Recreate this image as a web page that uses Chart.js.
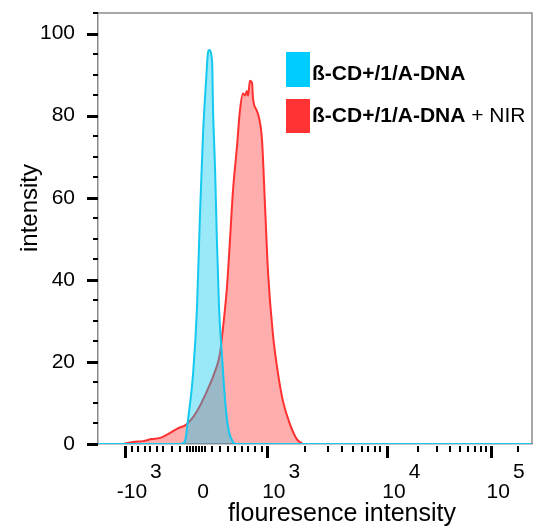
<!DOCTYPE html>
<html>
<head>
<meta charset="utf-8">
<script src="https://cdn.jsdelivr.net/npm/chart.js@4.4.1/dist/chart.umd.min.js"></script>
<style>
  html, body { margin: 0; padding: 0; background: #fff; }
  #wrap { width: 534px; height: 529px; }
</style>
</head>
<body>
<div id="wrap"><canvas id="histChart" width="534" height="529"></canvas></div>
<script>
// x values are display channels (0-1000) along the biexponential fluorescence axis
const blueX = [0, 189, 200, 207, 219, 228, 235, 242, 249, 253, 256, 263, 265, 270, 274, 279, 286, 293, 300, 311, 318, 1000];
const blueY = [0, 0, 0.5, 5.6, 17, 33, 56, 75.6, 88.5, 95, 96, 93, 82, 66, 49.5, 33, 21, 10.5, 3.9, 0.5, 0, 0];

const redX = [58, 81, 104, 124, 143, 161, 182, 205, 228, 251, 270, 281, 288, 297, 304, 311, 320, 327, 334, 339, 343, 346, 350, 355, 357, 366, 371, 378, 385, 392, 403, 415, 426, 442, 458, 472];
const redY = [0, 0.5, 0.7, 1.2, 1.5, 2.4, 3.7, 4.9, 8, 12.9, 17.8, 22, 28.3, 38, 49.5, 61.7, 72.2, 81.2, 85.4, 84.9, 86, 84.9, 88.5, 88, 84.4, 81.2, 79.5, 73.9, 57.6, 41.5, 26.8, 17, 10.5, 4.9, 1.2, 0];

const seriesNames = ['ß-CD+/1/A-DNA', 'ß-CD+/1/A-DNA'];
const seriesSuffix = ['', ' + NIR'];

const yTickValues = [0, 20, 40, 60, 80, 100];
const yMinorValues = [5, 10, 15, 25, 30, 35, 45, 50, 55, 65, 70, 75, 85, 90, 95, 105];

// x labels: -10^3, 0, 10^3, 10^4, 10^5
const xLabelTicks = [62, 226, 389, 666, 906];
const xLabelBase = ['-10', '0', '10', '10', '10'];
const xLabelExp = ['3', '', '3', '4', '5'];
const xLongTicks = [62, 389, 666, 906];
const xShortTicks = [78, 92, 108, 120, 136, 150, 171, 189, 205, 212, 219, 226, 233, 240, 247,
  263, 281, 300, 316, 332, 346, 362, 378,
  477, 530, 562, 588, 608, 622, 638, 650,
  737, 781, 811, 834, 853, 869, 883, 894, 968];

const blueLine = 'rgb(20, 200, 240)';
const blueFill = 'rgba(0, 200, 240, 0.4)';
const redLine = 'rgb(255, 48, 48)';
const redFill = 'rgba(255, 50, 50, 0.4)';

const axisDecor = {
  id: 'axisDecor',
  afterDraw(chart) {
    const { ctx, chartArea: a, scales: { x, y } } = chart;
    ctx.save();

    // grey frame on top and right
    ctx.strokeStyle = '#8c8c8c';
    ctx.lineWidth = 1.5;
    ctx.beginPath();
    ctx.moveTo(a.left, a.top);
    ctx.lineTo(a.right, a.top);
    ctx.lineTo(a.right, a.bottom);
    ctx.stroke();

    const seg = (x1, y1, x2, y2, w) => {
      ctx.lineWidth = w;
      ctx.beginPath();
      ctx.moveTo(x1, y1);
      ctx.lineTo(x2, y2);
      ctx.stroke();
    };
    ctx.strokeStyle = '#000';
    yTickValues.forEach(v => {
      const py = Math.round(y.getPixelForValue(v)) + 0.5;
      seg(a.left - 11, py, a.left, py, 3);
    });
    yMinorValues.forEach(v => {
      const py = Math.round(y.getPixelForValue(v));
      seg(a.left - 5, py, a.left, py, 2);
    });
    const base = a.bottom + 2;
    xLongTicks.forEach(v => {
      const px = Math.round(x.getPixelForValue(v)) + 0.5;
      seg(px, base, px, base + 12, 3);
    });
    xShortTicks.forEach(v => {
      const px = Math.round(x.getPixelForValue(v));
      seg(px, base, px, base + 6, 2);
    });

    // x tick labels with raised exponents
    ctx.fillStyle = '#000';
    ctx.font = '21px "Liberation Sans", Arial, sans-serif';
    ctx.textBaseline = 'alphabetic';
    xLabelTicks.forEach((v, i) => {
      const px = x.getPixelForValue(v) + 7;
      ctx.textAlign = 'center';
      ctx.fillText(xLabelBase[i], px, 498);
      if (xLabelExp[i]) {
        const w = ctx.measureText(xLabelBase[i]).width;
        ctx.textAlign = 'left';
        ctx.fillText(xLabelExp[i], px + w / 2 + 3, 478);
      }
    });

    // axis titles
    ctx.font = '25px "Liberation Sans", Arial, sans-serif';
    ctx.textAlign = 'center';
    ctx.fillText('flouresence intensity', 342, 521);
    ctx.save();
    ctx.translate(37, 208);
    ctx.rotate(-Math.PI / 2);
    ctx.font = '24px "Liberation Sans", Arial, sans-serif';
    ctx.fillText('intensity', 0, 0);
    ctx.restore();

    // legend
    const boxes = [[286, 52, 24, 35, 'rgb(0, 204, 255)', 80], [286, 99, 24, 34, 'rgb(255, 51, 51)', 122]];
    boxes.forEach((b, i) => {
      ctx.fillStyle = b[4];
      ctx.fillRect(b[0], b[1], b[2], b[3]);
      ctx.fillStyle = '#000';
      ctx.textAlign = 'left';
      ctx.font = 'bold 21px "Liberation Sans", Arial, sans-serif';
      const tx = 312;
      ctx.fillText(seriesNames[i], tx, b[5]);
      if (seriesSuffix[i]) {
        const w = ctx.measureText(seriesNames[i]).width;
        ctx.font = '21px "Liberation Sans", Arial, sans-serif';
        ctx.fillText(seriesSuffix[i], tx + w, b[5]);
      }
    });
    ctx.restore();
  }
};

new Chart(document.getElementById('histChart'), {
  type: 'line',
  data: {
    datasets: [
      {
        label: seriesNames[0],
        data: blueX.map((v, i) => ({ x: v, y: blueY[i] })),
        borderColor: blueLine,
        backgroundColor: blueFill,
        borderWidth: 2,
        fill: 'origin',
        pointRadius: 0,
        cubicInterpolationMode: 'monotone'
      },
      {
        label: seriesNames[1] + seriesSuffix[1],
        data: redX.map((v, i) => ({ x: v, y: redY[i] })),
        borderColor: redLine,
        backgroundColor: redFill,
        borderWidth: 2,
        fill: 'origin',
        pointRadius: 0,
        cubicInterpolationMode: 'monotone'
      }
    ]
  },
  options: {
    responsive: false,
    animation: false,
    devicePixelRatio: 1,
    layout: { padding: { top: 13, right: 2, left: 0, bottom: 0 } },
    plugins: {
      legend: { display: false },
      tooltip: { enabled: false }
    },
    scales: {
      x: {
        type: 'linear',
        min: 0,
        max: 1000,
        grid: { display: false, drawTicks: false },
        border: { display: true, color: '#8c8c8c', width: 1.5 },
        ticks: { display: false },
        afterBuildTicks: s => { s.ticks = []; },
        afterFit: s => { s.height = 85; s.paddingLeft = 0; s.paddingRight = 0; }
      },
      y: {
        min: 0,
        max: 105,
        grid: { display: false, drawTicks: false },
        border: { display: true, color: '#8c8c8c', width: 1.5 },
        afterBuildTicks: s => { s.ticks = yTickValues.map(v => ({ value: v })); },
        afterFit: s => { s.width = 98; s.paddingTop = 0; s.paddingBottom = 0; },
        ticks: {
          padding: 23,
          color: '#000',
          font: { family: '"Liberation Sans", Arial, sans-serif', size: 21 }
        }
      }
    }
  },
  plugins: [axisDecor]
});
</script>
</body>
</html>
